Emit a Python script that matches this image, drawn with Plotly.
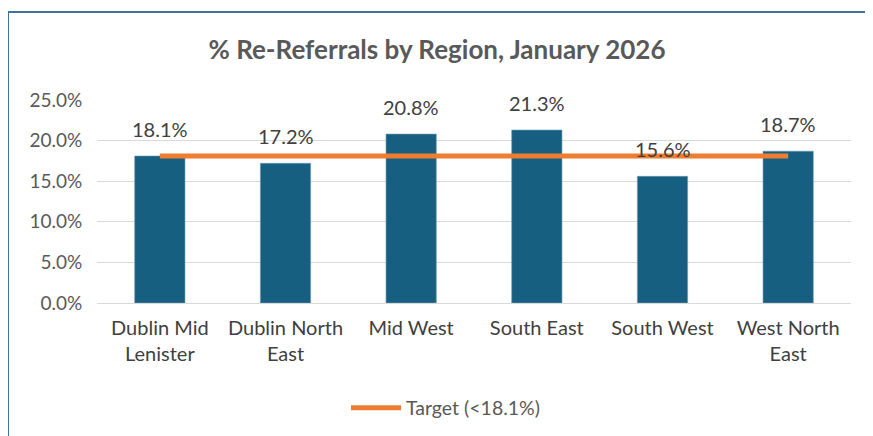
import plotly.graph_objects as go

regions = ["Dublin Mid<br>Lenister", "Dublin North<br>East", "Mid West", "South East", "South West", "West North<br>East"]
rereferral_pct = [0.181, 0.172, 0.208, 0.213, 0.156, 0.187]
target_value = 0.181
target_name = "Target (<18.1%)"
title_text = "% Re-Referrals by Region, January 2026"
y_tick_vals = [0.0, 0.05, 0.10, 0.15, 0.20, 0.25]

FONT = "Lato"
TXT = "#404040"

fig = go.Figure()
fig.add_trace(go.Bar(
    x=regions, y=rereferral_pct, width=0.4,
    marker=dict(color="#175F80", line=dict(color="#6E9AB0", width=0.6)),
    showlegend=False, hoverinfo="skip",
))
fig.add_trace(go.Scatter(
    x=regions, y=[target_value] * len(regions), mode="lines",
    line=dict(color="#ED7D31", width=5), name=target_name,
))

for r, v in zip(regions, rereferral_pct):
    fig.add_annotation(x=r, y=v, text=f"{v*100:.1f}%", showarrow=False,
                       yanchor="bottom", yshift=13,
                       font=dict(family=FONT, size=20, color=TXT))

# page body has an 8px margin, so figure coords = screen coords - 8
OFF = 8
W, H = 873 - OFF, 436 - OFF
L, R = 97 - OFF, 851 - OFF
T, B = 100 - OFF, 303 - OFF
def px(xp):
    return (xp - OFF - L) / (R - L)
def py(yp):
    return (B - (yp - OFF)) / (B - T)

fig.add_shape(type="line", xref="paper", yref="paper",
              x0=px(7), x1=px(880), y0=py(12), y1=py(12),
              line=dict(color="#41719C", width=2))
fig.add_shape(type="line", xref="paper", yref="paper",
              x0=px(8), x1=px(8), y0=py(12), y1=py(450),
              line=dict(color="#41719C", width=2))

fig.update_layout(
    width=W, height=H,
    margin=dict(l=L, r=W - R, t=T, b=H - B, autoexpand=False),
    paper_bgcolor="white", plot_bgcolor="white",
    font=dict(family=FONT, color=TXT, size=20),
    title=dict(text=f"<b>{title_text}</b>", x=(437 - OFF) / W, xanchor="center",
               xref="container", yref="container",
               y=1 - (50 - OFF) / H, yanchor="middle",
               font=dict(family=FONT, size=26, color="#595959")),
    bargap=0.6,
    xaxis=dict(showgrid=False, showline=False, ticks="outside", ticklen=7,
               tickcolor="rgba(0,0,0,0)", automargin=False,
               tickfont=dict(family=FONT, size=20, color=TXT)),
    yaxis=dict(range=[0, 0.25], tickvals=y_tick_vals, tickformat=".1%",
               showgrid=True, gridcolor="#D9D9D9", gridwidth=1.3,
               zeroline=True, zerolinecolor="#D9D9D9", zerolinewidth=1.3,
               showline=False, ticks="outside", ticklen=10,
               tickcolor="rgba(0,0,0,0)", automargin=False,
               tickfont=dict(family=FONT, size=19, color="#595959")),
    legend=dict(orientation="h", xref="container", yref="container",
                x=(346 - OFF) / W, xanchor="left",
                y=1 - (408 - OFF) / H, yanchor="middle",
                font=dict(family=FONT, size=19.5, color="#595959"),
                itemwidth=50),
    showlegend=True,
)

fig.write_html("out.html")
